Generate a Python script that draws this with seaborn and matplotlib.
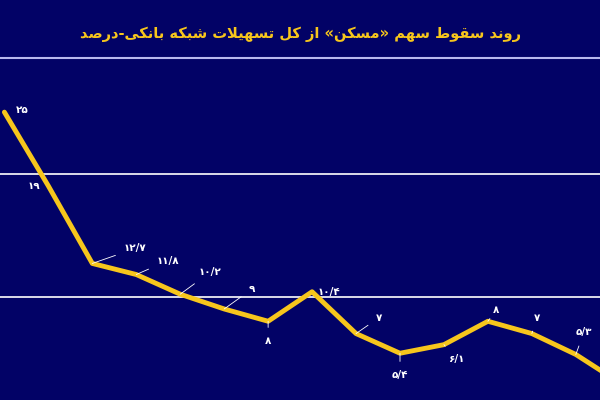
import unicodedata
import matplotlib
matplotlib.use("Agg")
import matplotlib.pyplot as plt
import seaborn as sns
import pandas as pd

# data
periods = list(range(15))
share = [25, 19, 12.7, 11.8, 10.2, 9, 8, 10.4, 7, 5.4, 6.1, 8, 7, 5.3, 3.0]
labels = ["۲۵", "۱۹", "۱۲/۷", "۱۱/۸", "۱۰/۲", "۹", "۸", "۱۰/۴", "۷", "۵/۴", "۶/۱", "۸", "۷", "۵/۳", ""]
label_offsets = [(18, 2), (-14, 0), (43, 15), (32, 14), (30, 22), (28, 20), (0, -20), (17, 0),
                 (23, 16), (0, -22), (12, -14), (8, 11), (5, 16), (8, 22), (0, 0)]
leader = [False, False, True, True, True, True, True, False, True, True, True, True, True, True, False]
title = "روند سقوط سهم «مسکن» از کل تسهیلات شبکه بانکی-درصد"

RIGHT_ONLY = set("اآدذرزژوةأإؤ")


def shape(text):
    # minimal persian shaping: pick presentation forms, then reverse for display
    def forms(ch):
        try:
            name = unicodedata.name(ch)
        except ValueError:
            return None
        if not name.startswith("ARABIC LETTER"):
            return None
        out = {}
        for f in ("ISOLATED", "FINAL", "INITIAL", "MEDIAL"):
            try:
                out[f] = unicodedata.lookup(name + " " + f + " FORM")
            except KeyError:
                pass
        return out

    chars = []
    i = 0
    while i < len(text):
        if text[i] == "ل" and i + 1 < len(text) and text[i + 1] == "ا":
            chars.append("LA")
            i += 2
        else:
            chars.append(text[i])
            i += 1

    def is_letter(c):
        return c == "LA" or forms(c) is not None

    def joins_next(c):
        return c != "LA" and is_letter(c) and c not in RIGHT_ONLY

    out = []
    for k, c in enumerate(chars):
        prev = chars[k - 1] if k > 0 else None
        nxt = chars[k + 1] if k + 1 < len(chars) else None
        join_prev = prev is not None and joins_next(prev)
        if c == "LA":
            out.append("\uFEFC" if join_prev else "\uFEFB")
            continue
        f = forms(c)
        if not f:
            out.append({"«": "»", "»": "«"}.get(c, c))
            continue
        join_nxt = joins_next(c) and nxt is not None and is_letter(nxt)
        if join_prev and join_nxt:
            key = "MEDIAL"
        elif join_prev:
            key = "FINAL"
        elif join_nxt:
            key = "INITIAL"
        else:
            key = "ISOLATED"
        out.append(f.get(key, f.get("ISOLATED", c)))
    return "".join(reversed(out))


df = pd.DataFrame({"period": periods, "share": share})

bg = "#020266"
yellow = "#f7c61c"

sns.set_theme(style="white")
plt.rcParams["font.family"] = ["DejaVu Sans"]

fig = plt.figure(figsize=(6, 4), dpi=100, facecolor=bg)
ax = fig.add_axes([0, 0, 1, 342 / 400])
ax.set_facecolor(bg)

for g in (10, 20):
    ax.axhline(g, color="white", lw=1.2, zorder=1)

sns.lineplot(data=df, x="period", y="share", color=yellow, lw=3.5, ax=ax, zorder=3)

for x, y, lab, (dx, dy), ld in zip(periods, share, labels, label_offsets, leader):
    if not lab:
        continue
    ax.annotate(lab, (x, y), xytext=(dx, dy), textcoords="offset pixels",
                color="white", fontsize=7.5, fontweight="bold", ha="center", va="center",
                arrowprops=dict(arrowstyle="-", color="white", lw=0.6, shrinkA=4, shrinkB=0) if ld else None,
                zorder=4)

ax.set_xlim(-0.1, 13.55)
ax.set_ylim(1.6, 29.4)
ax.set_xticks([])
ax.set_yticks([])
ax.set_xlabel("")
ax.set_ylabel("")
for s in ("left", "right", "bottom"):
    ax.spines[s].set_visible(False)
ax.spines["top"].set_color("#b8b8ee")
ax.spines["top"].set_linewidth(1.5)

fig.text(0.5, 0.915, shape(title), color=yellow, fontsize=10.5, fontweight="bold", ha="center", va="center")

fig.savefig("out.png", dpi=100, facecolor=bg)
